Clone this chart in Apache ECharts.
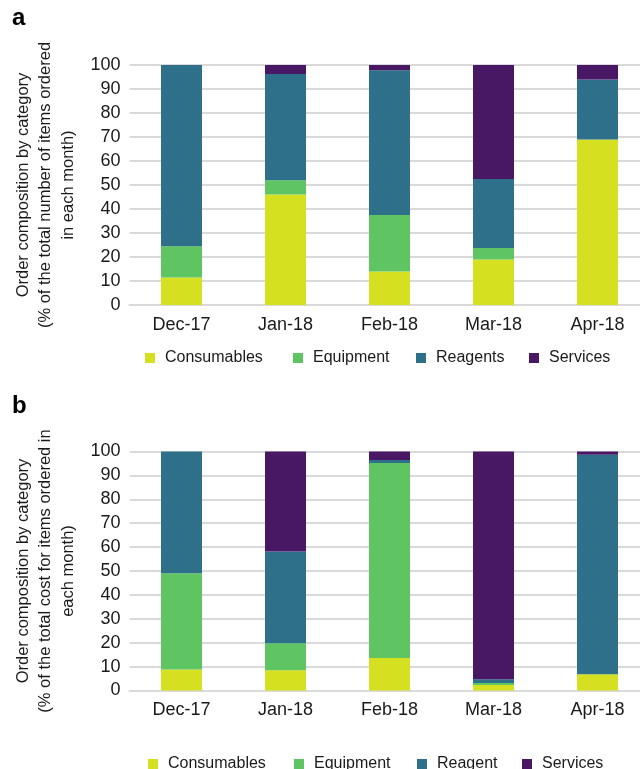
<!DOCTYPE html>
<html>
<head>
<meta charset="utf-8">
<script src="https://cdn.jsdelivr.net/npm/echarts@6/dist/echarts.min.js"></script>
<style>
  html, body { margin: 0; padding: 0; background: #fff; }
  #chart { width: 640px; height: 769px; }
</style>
</head>
<body>
<div id="chart"></div>
<script>
// Months on the x axis (shared by both panels)
const months = ['Dec-17', 'Jan-18', 'Feb-18', 'Mar-18', 'Apr-18'];

// Panel a: % of total number of items ordered each month
const itemsConsumables = [11.5, 46.0, 14.0, 19.0, 69.0];
const itemsEquipment   = [13.0, 6.0, 23.5, 4.8, 0];
const itemsReagents    = [75.5, 44.2, 60.3, 28.7, 25.0];
const itemsServices    = [0, 3.8, 2.2, 47.5, 6.0];

// Panel b: % of total cost for items ordered each month
const costConsumables = [8.8, 8.5, 13.6, 2.3, 6.8];
const costEquipment   = [40.3, 11.3, 81.6, 0.8, 0];
const costReagent     = [50.9, 38.4, 1.2, 1.6, 91.8];
const costServices    = [0, 41.8, 3.6, 95.3, 1.4];

// Legend labels for each panel
const legendA = ['Consumables', 'Equipment', 'Reagents', 'Services'];
const legendB = ['Consumables', 'Equipment', 'Reagent', 'Services'];

const yTicks = { min: 0, max: 100, interval: 10 };

const colors = ['#d4e020', '#5fc462', '#2e6f89', '#481865'];
const font = 'Liberation Sans, Arial, sans-serif';
const gridColor = '#dadada';
const ink = '#1a1a1a';

function makeX(gridIndex) {
  return {
    type: 'category', gridIndex, data: months,
    axisLine: { show: true, lineStyle: { color: gridColor, width: 2 } },
    axisTick: { show: false },
    axisLabel: { color: ink, fontSize: 18, fontFamily: font, margin: 11 }
  };
}
function makeY(gridIndex, name) {
  return {
    type: 'value', gridIndex, min: yTicks.min, max: yTicks.max, interval: yTicks.interval,
    name, nameLocation: 'middle', nameRotate: 90, nameGap: 50,
    nameTextStyle: { color: ink, fontSize: 16.5, fontFamily: font, lineHeight: 22.5, align: 'center' },
    axisLine: { show: false }, axisTick: { show: false },
    axisLabel: { color: ink, fontSize: 18, fontFamily: font, margin: 9 },
    splitLine: { lineStyle: { color: gridColor, width: 2 } }
  };
}
function makeSeries(names, values, idx, stack) {
  return names.map((n, i) => ({
    name: n, type: 'bar', stack, xAxisIndex: idx, yAxisIndex: idx,
    data: values[i], barWidth: 41,
    itemStyle: { color: colors[i] }, emphasis: { disabled: true }
  }));
}
function makeLegends(names, top, lefts) {
  return names.map((n, i) => ({
    data: [n], top, left: lefts[i], icon: 'rect', itemWidth: 10, itemHeight: 10,
    selectedMode: false,
    textStyle: { color: ink, fontSize: 16, fontFamily: font, padding: [0, 0, 0, 5] }
  }));
}

const chart = echarts.init(document.getElementById('chart'), null, { renderer: 'canvas' });
chart.setOption({
  animation: false,
  color: colors,
  grid: [
    { left: 129.5, width: 520, top: 65, height: 240, outerBoundsMode: 'none' },
    { left: 129.5, width: 520, top: 451.5, height: 239, outerBoundsMode: 'none' }
  ],
  xAxis: [makeX(0), makeX(1)],
  yAxis: [
    makeY(0, 'Order composition by category\n(% of the total number of items ordered\nin each month)'),
    makeY(1, 'Order composition by category\n(% of the total cost for items ordered in\neach month)')
  ],
  legend: [
    ...makeLegends(legendA, 345, [140, 288, 411, 524]),
    ...makeLegends(legendB, 751, [143, 289, 412, 517])
  ],
  graphic: [
    { type: 'text', left: 12, top: 6, style: { text: 'a', font: 'bold 24px ' + font, fill: '#000' } },
    { type: 'text', left: 12, top: 394, style: { text: 'b', font: 'bold 24px ' + font, fill: '#000' } }
  ],
  series: [
    ...makeSeries(legendA, [itemsConsumables, itemsEquipment, itemsReagents, itemsServices], 0, 'items'),
    ...makeSeries(legendB, [costConsumables, costEquipment, costReagent, costServices], 1, 'cost')
  ]
});
</script>
</body>
</html>
